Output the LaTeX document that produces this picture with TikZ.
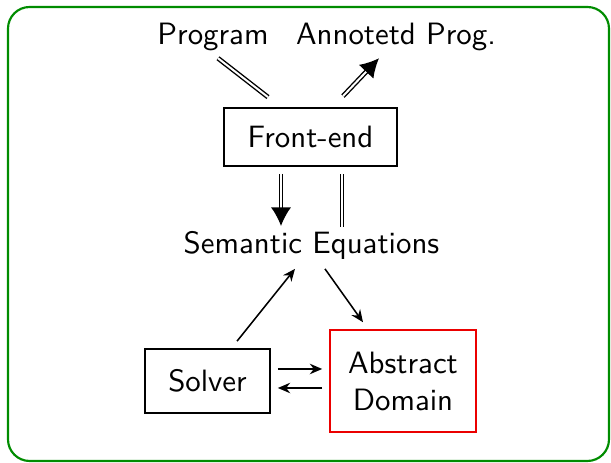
\documentclass[tikz,border=0pt]{standalone}
\usetikzlibrary{arrows.meta, calc}
\definecolor{framegreen}{RGB}{0, 140, 0}
\definecolor{domred}{RGB}{235, 0, 0}

\begin{document}
\begin{tikzpicture}[x=0.324pt, y=-0.324pt, font=\sffamily,
  box/.style={draw, line width=0.55pt, minimum width=40.5pt, minimum height=20.7pt},
  flow/.style={double, line width=0.45pt, double distance=0.65pt},
  flowhead/.style={flow, -{Latex[length=6pt, width=6.5pt]}},
  link/.style={line width=0.5pt, -{Stealth[length=4pt, width=3.4pt]}}]
  \useasboundingbox (0,0) rectangle (611,463);
  \draw[framegreen, line width=0.7pt, rounded corners=7pt] (8,7) rectangle (609,461);

  % front end with its input and output
  \node[anchor=base] (prog) at (213,45) {Program};
  \node[anchor=base] (annot) at (396,45) {Annotetd Prog.};
  \node[box, minimum width=56pt, minimum height=18.8pt] (fe) at (310.5,137) {Front-end};
  \node[anchor=base] (sem) at (311.5,254) {Semantic Equations};

  % solver and domain
  \node[box] (solver) at (207.5,381) {Solver};
  \node[box, draw=domred, align=center, minimum width=47.3pt, minimum height=33pt] (dom) at (403,381) {Abstract\\Domain};

  \draw[flow] ($(prog.south)+(5,-4)$) -- ($(fe.north)+(-42.5,-10)$);
  \draw[flowhead] ($(fe.north)+(32.5,-11)$) -- ($(annot.south)+(-17,-4)$);
  \draw[flowhead] ($(fe.south)+(-29.5,7)$) -- ($(sem.north)+(-30.5,5)$);
  \draw[flow] ($(sem.north)+(30.5,6)$) -- ($(fe.south)+(31.5,7)$);

  \draw[link] ($(solver.north)+(29.5,-7)$) -- ($(sem.south)+(-16.5,-2)$);
  \draw[link] ($(sem.south)+(13.5,-2)$) -- ($(dom.north)+(-40,-7)$);
  \draw[link] ($(solver.east)+(7,-12)$) -- ($(dom.west)+(-7,-12)$);
  \draw[link] ($(dom.west)+(-7,7)$) -- ($(solver.east)+(7,7)$);
\end{tikzpicture}
\end{document}
